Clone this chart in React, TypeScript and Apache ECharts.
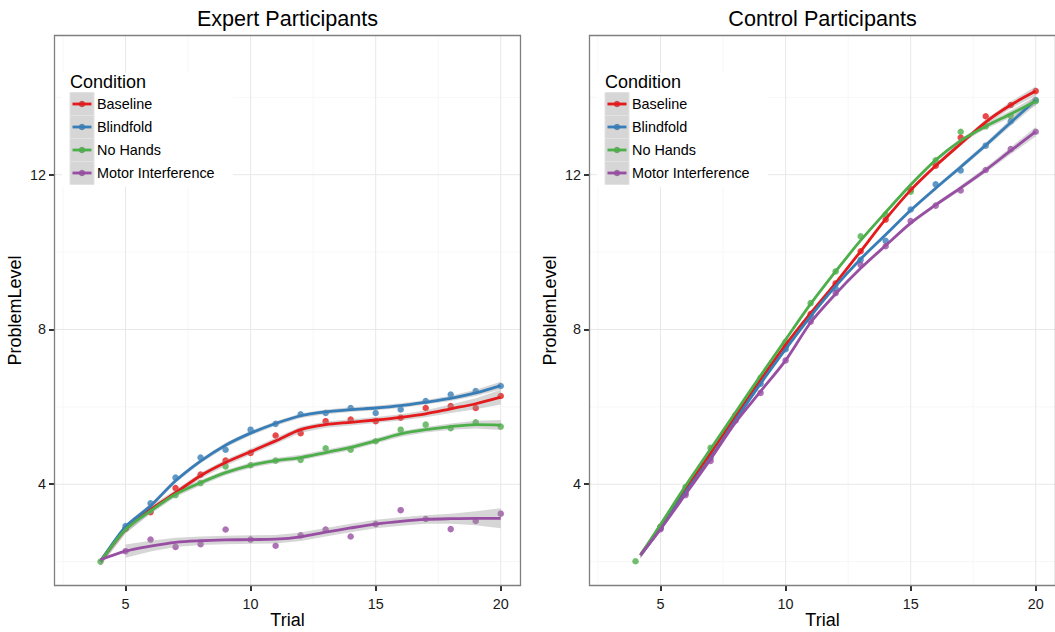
import React, { useEffect, useRef } from "react";
import * as echarts from "echarts";

// ---------- data ----------
const trials = [4, 5, 6, 7, 8, 9, 10, 11, 12, 13, 14, 15, 16, 17, 18, 19, 20];
const controlSmoothTrials = [4.2, 5, 6, 7, 8, 9, 10, 11, 12, 13, 14, 15, 16, 17, 18, 19, 20];
const conditions = ["Baseline", "Blindfold", "No Hands", "Motor Interference"];
const colors = ["#E41A1C", "#377EB8", "#4DAF4A", "#984EA3"];
const panelTitles = ["Expert Participants", "Control Participants"];
const xTicks = [5, 10, 15, 20];
const xMinor = [2.5, 7.5, 12.5, 17.5];
const yTicks = [4, 8, 12];
const yMinor = [2, 6, 10, 14];

// Expert participants: observed means (null = not shown)
const expertBaseline = [null, 2.85, 3.28, 3.9, 4.25, 4.61, 4.81, 5.26, 5.32, 5.63, 5.67, 5.63, 5.72, 5.97, 6.02, 5.97, 6.28];
const expertBlindfold = [null, 2.92, 3.51, 4.17, 4.69, 4.89, 5.41, 5.56, 5.81, 5.84, 5.97, 5.84, 5.93, 6.15, 6.32, 6.41, 6.54];
const expertNoHands = [2.0, 2.85, 3.32, 3.72, 4.03, 4.46, 4.49, 4.61, 4.63, 4.93, 4.89, 5.11, 5.41, 5.54, 5.45, 5.6, 5.49];
const expertMotor = [null, 2.27, 2.57, 2.38, 2.45, 2.83, 2.57, 2.41, 2.68, 2.83, 2.65, 2.97, 3.33, 3.1, 2.84, 3.05, 3.24];

// Expert participants: smoothed fits
const expertBaselineFit = [2.0, 2.83, 3.35, 3.78, 4.22, 4.56, 4.84, 5.12, 5.41, 5.54, 5.6, 5.66, 5.73, 5.82, 5.95, 6.08, 6.25];
const expertBlindfoldFit = [2.0, 2.9, 3.44, 4.09, 4.6, 5.01, 5.32, 5.57, 5.77, 5.87, 5.93, 5.97, 6.03, 6.12, 6.22, 6.36, 6.55];
const expertNoHandsFit = [2.0, 2.83, 3.31, 3.74, 4.04, 4.3, 4.49, 4.61, 4.69, 4.82, 4.95, 5.12, 5.3, 5.41, 5.49, 5.54, 5.53];
const expertMotorFit = [2.05, 2.27, 2.4, 2.5, 2.54, 2.56, 2.57, 2.58, 2.64, 2.76, 2.87, 2.97, 3.04, 3.09, 3.11, 3.12, 3.12];

// Expert participants: half-width of confidence band
const expertBaselineSe = [0.1, 0.1, 0.09, 0.08, 0.08, 0.08, 0.08, 0.08, 0.08, 0.08, 0.08, 0.08, 0.08, 0.09, 0.11, 0.14, 0.19];
const expertBlindfoldSe = [0.08, 0.07, 0.06, 0.06, 0.06, 0.06, 0.06, 0.06, 0.06, 0.06, 0.06, 0.06, 0.06, 0.06, 0.07, 0.08, 0.1];
const expertNoHandsSe = [0.1, 0.09, 0.08, 0.07, 0.07, 0.07, 0.07, 0.07, 0.07, 0.07, 0.07, 0.07, 0.07, 0.07, 0.08, 0.1, 0.13];
const expertMotorSe = [null, 0.17, 0.14, 0.12, 0.11, 0.11, 0.11, 0.11, 0.11, 0.11, 0.11, 0.11, 0.11, 0.11, 0.13, 0.18, 0.26];

// Control participants: observed means (null = not shown)
const controlBaseline = [null, 2.9, 3.85, 4.8, 5.79, 6.7, 7.55, 8.4, 9.19, 10.02, 10.84, 11.62, 12.23, 12.96, 13.51, 13.8, 14.16];
const controlBlindfold = [null, 2.86, 3.77, 4.68, 5.69, 6.6, 7.49, 8.34, 9.06, 9.8, 10.29, 11.1, 11.75, 12.11, 12.75, 13.38, 13.93];
const controlNoHands = [2.01, 2.9, 3.93, 4.94, 5.72, 6.75, 7.68, 8.68, 9.5, 10.41, 10.97, 11.56, 12.37, 13.11, 13.25, 13.52, 13.9];
const controlMotor = [null, 2.84, 3.72, 4.6, 5.65, 6.36, 7.2, 8.2, 8.94, 9.67, 10.15, 10.8, 11.2, 11.59, 12.12, 12.66, 13.11];

// Control participants: smoothed fits
const controlBaselineFit = [2.17, 2.9, 3.87, 4.8, 5.76, 6.7, 7.6, 8.42, 9.2, 10.02, 10.85, 11.6, 12.23, 12.8, 13.36, 13.8, 14.16];
const controlBlindfoldFit = [2.17, 2.86, 3.8, 4.68, 5.66, 6.6, 7.49, 8.34, 9.12, 9.82, 10.45, 11.08, 11.65, 12.2, 12.76, 13.35, 13.93];
const controlNoHandsFit = [2.17, 2.96, 3.96, 4.91, 5.86, 6.81, 7.74, 8.66, 9.5, 10.3, 11.03, 11.74, 12.38, 12.88, 13.25, 13.57, 13.9];
const controlMotorFit = [2.17, 2.84, 3.74, 4.65, 5.6, 6.4, 7.2, 8.18, 8.92, 9.58, 10.17, 10.75, 11.22, 11.66, 12.12, 12.62, 13.11];

// Control participants: half-width of confidence band
const controlBaselineSe = [0.08, 0.05, 0.04, 0.04, 0.04, 0.04, 0.04, 0.04, 0.04, 0.04, 0.04, 0.05, 0.05, 0.06, 0.07, 0.09, 0.12];
const controlBlindfoldSe = [0.08, 0.05, 0.04, 0.04, 0.04, 0.04, 0.04, 0.04, 0.04, 0.04, 0.04, 0.05, 0.05, 0.06, 0.07, 0.09, 0.12];
const controlNoHandsSe = [0.08, 0.05, 0.04, 0.04, 0.04, 0.04, 0.04, 0.04, 0.04, 0.04, 0.04, 0.05, 0.05, 0.06, 0.07, 0.09, 0.12];
const controlMotorSe = [0.08, 0.05, 0.04, 0.04, 0.04, 0.04, 0.04, 0.04, 0.04, 0.04, 0.04, 0.05, 0.05, 0.06, 0.07, 0.09, 0.12];

const panels = [
  {
    obs: [expertBaseline, expertBlindfold, expertNoHands, expertMotor],
    fit: [expertBaselineFit, expertBlindfoldFit, expertNoHandsFit, expertMotorFit],
    se: [expertBaselineSe, expertBlindfoldSe, expertNoHandsSe, expertMotorSe],
    fitX: trials,
  },
  {
    obs: [controlBaseline, controlBlindfold, controlNoHands, controlMotor],
    fit: [controlBaselineFit, controlBlindfoldFit, controlNoHandsFit, controlMotorFit],
    se: [controlBaselineSe, controlBlindfoldSe, controlNoHandsSe, controlMotorSe],
    fitX: controlSmoothTrials,
  },
];

// ---------- layout / style ----------
const X_MIN = 2.14;
const X_MAX = 20.81;
const Y_MIN = 1.37;
const Y_MAX = 15.61;
const FONT = "'Liberation Sans', Arial, Helvetica, sans-serif";
const gridBoxes = [
  { left: 54, top: 35, width: 467, height: 551 },
  { left: 589, top: 35, width: 467, height: 551 },
];

function mix(hex: string, gray: number, a: number) {
  const r = parseInt(hex.slice(1, 3), 16);
  const g = parseInt(hex.slice(3, 5), 16);
  const b = parseInt(hex.slice(5, 7), 16);
  const f = (c: number) => Math.round(c * (1 - a) + gray * a);
  return `rgb(${f(r)},${f(g)},${f(b)})`;
}

function gridLineSeries(idx: number, values: number[], vertical: boolean, color: string) {
  return {
    type: "custom",
    xAxisIndex: idx,
    yAxisIndex: idx,
    silent: true,
    z: 0,
    data: values.map((v) => (vertical ? [v, 8] : [10, v])),
    renderItem: (params: any, api: any) => {
      const cs = params.coordSys;
      const p = api.coord([api.value(0), api.value(1)]);
      const shape = vertical
        ? { x1: p[0], y1: cs.y, x2: p[0], y2: cs.y + cs.height }
        : { x1: cs.x, y1: p[1], x2: cs.x + cs.width, y2: p[1] };
      return { type: "line", shape, style: { stroke: color, lineWidth: 1 } };
    },
  };
}

function ribbonSeries(idx: number, xs: number[], mid: number[], half: (number | null)[]) {
  return {
    type: "custom",
    xAxisIndex: idx,
    yAxisIndex: idx,
    silent: true,
    z: 3,
    data: [[10, 8]],
    renderItem: (params: any, api: any) => {
      const top: number[][] = [];
      const bot: number[][] = [];
      xs.forEach((x, i) => {
        const h = half[i];
        if (h == null) return;
        top.push(api.coord([x, mid[i] + h]));
        bot.push(api.coord([x, mid[i] - h]));
      });
      return {
        type: "polygon",
        shape: { points: top.concat(bot.reverse()) },
        style: { fill: "rgba(153,153,153,0.4)" },
      };
    },
  };
}

function buildOption() {
  const series: any[] = [];
  const graphic: any[] = [];

  panels.forEach((panel, p) => {
    series.push(gridLineSeries(p, xMinor, true, "#f7f7f7"));
    series.push(gridLineSeries(p, yMinor, false, "#f7f7f7"));
    series.push(gridLineSeries(p, xTicks, true, "#e8e8e8"));
    series.push(gridLineSeries(p, yTicks, false, "#e8e8e8"));

    conditions.forEach((name, c) => {
      const pts: number[][] = [];
      trials.forEach((t, i) => {
        const v = panel.obs[c][i];
        if (v != null) pts.push([t, v]);
      });
      series.push({
        type: "scatter",
        name,
        xAxisIndex: p,
        yAxisIndex: p,
        z: 2,
        symbolSize: 6.5,
        itemStyle: { color: colors[c] },
        data: pts,
      });
    });
    conditions.forEach((name, c) => {
      series.push(ribbonSeries(p, panel.fitX, panel.fit[c], panel.se[c]));
      series.push({
        type: "line",
        name,
        xAxisIndex: p,
        yAxisIndex: p,
        z: 4,
        showSymbol: false,
        smooth: 0.3,
        lineStyle: { color: colors[c], width: 2.8 },
        itemStyle: { color: colors[c] },
        data: panel.fitX.map((t, i) => [t, panel.fit[c][i]]),
      });
    });

    const g = gridBoxes[p];
    // panel border
    graphic.push({
      type: "rect",
      z: 10,
      silent: true,
      shape: { x: g.left + 0.5, y: g.top + 0.5, width: g.width - 1, height: g.height - 1 },
      style: { fill: "none", stroke: "#7f7f7f", lineWidth: 1.3 },
    });
    // panel title
    graphic.push({
      type: "text",
      z: 10,
      silent: true,
      style: {
        text: panelTitles[p],
        x: g.left + g.width / 2,
        y: 18.5,
        fontSize: 21.6,
        fontFamily: FONT,
        fill: "#000",
        align: "center",
        verticalAlign: "middle",
        textAlign: "center",
        textVerticalAlign: "middle",
      },
    });
    // legend
    const ox = g.left;
    graphic.push({
      type: "rect",
      z: 20,
      silent: true,
      shape: { x: ox + 8, y: 73, width: 171, height: 114 },
      style: { fill: "#ffffff" },
    });
    graphic.push({
      type: "text",
      z: 21,
      silent: true,
      style: {
        text: "Condition",
        x: ox + 16,
        y: 82,
        fontSize: 18,
        fontFamily: FONT,
        fill: "#000",
        align: "left",
        verticalAlign: "middle",
        textAlign: "left",
        textVerticalAlign: "middle",
      },
    });
    conditions.forEach((name, c) => {
      const ky = 92.5 + 23 * c;
      graphic.push({
        type: "rect",
        z: 21,
        silent: true,
        shape: { x: ox + 16, y: ky, width: 24, height: 23 },
        style: { fill: "#d6d6d6", stroke: "#e2e2e2", lineWidth: 1 },
      });
      graphic.push({
        type: "circle",
        z: 22,
        silent: true,
        shape: { cx: ox + 28, cy: ky + 11.5, r: 3.3 },
        style: { fill: mix(colors[c], 153, 0.4) },
      });
      graphic.push({
        type: "line",
        z: 23,
        silent: true,
        shape: { x1: ox + 18.5, y1: ky + 11.5, x2: ox + 37.5, y2: ky + 11.5 },
        style: { stroke: colors[c], lineWidth: 2.8 },
      });
      graphic.push({
        type: "text",
        z: 23,
        silent: true,
        style: {
          text: name,
          x: ox + 43,
          y: ky + 11.5,
          fontSize: 14.4,
          fontFamily: FONT,
          fill: "#000",
          align: "left",
          verticalAlign: "middle",
          textAlign: "left",
          textVerticalAlign: "middle",
        },
      });
    });
  });

  const grid = gridBoxes.map((g) => ({ ...g, show: false, containLabel: false, outerBoundsMode: "none" }));

  const xAxis = gridBoxes.map((_, i) => ({
    type: "value",
    gridIndex: i,
    min: X_MIN,
    max: X_MAX,
    name: "Trial",
    nameLocation: "middle",
    nameGap: 25,
    nameMoveOverlap: false,
    nameTextStyle: { fontSize: 18, color: "#000", fontFamily: FONT, lineHeight: 18 },
    axisLine: { show: false },
    splitLine: { show: false },
    axisTick: { show: true, length: 5, customValues: xTicks, lineStyle: { color: "#333", width: 2 } },
    axisLabel: { customValues: xTicks, fontSize: 14.4, color: "#1a1a1a", fontFamily: FONT, margin: 11 },
  }));

  const yAxis = gridBoxes.map((_, i) => ({
    type: "value",
    gridIndex: i,
    min: Y_MIN,
    max: Y_MAX,
    name: "ProblemLevel",
    nameLocation: "middle",
    nameGap: 30,
    nameMoveOverlap: false,
    nameTextStyle: { fontSize: 18, color: "#000", fontFamily: FONT, lineHeight: 18 },
    axisLine: { show: false },
    splitLine: { show: false },
    axisTick: { show: true, length: 5, customValues: yTicks, lineStyle: { color: "#333", width: 2 } },
    axisLabel: { customValues: yTicks, fontSize: 14.4, color: "#1a1a1a", fontFamily: FONT, margin: 8 },
  }));

  return {
    animation: false,
    backgroundColor: "#ffffff",
    textStyle: { fontFamily: FONT },
    grid,
    xAxis,
    yAxis,
    series,
    graphic,
  };
}

export default function App() {
  const ref = useRef<HTMLDivElement>(null);
  useEffect(() => {
    if (!ref.current) return;
    const chart = echarts.init(ref.current, undefined, { renderer: "svg" });
    chart.setOption(buildOption() as any);
    return () => chart.dispose();
  }, []);
  return (
    <div
      ref={ref}
      style={{ position: "absolute", left: 0, top: 0, width: 1055, height: 632, background: "#fff" }}
    />
  );
}
